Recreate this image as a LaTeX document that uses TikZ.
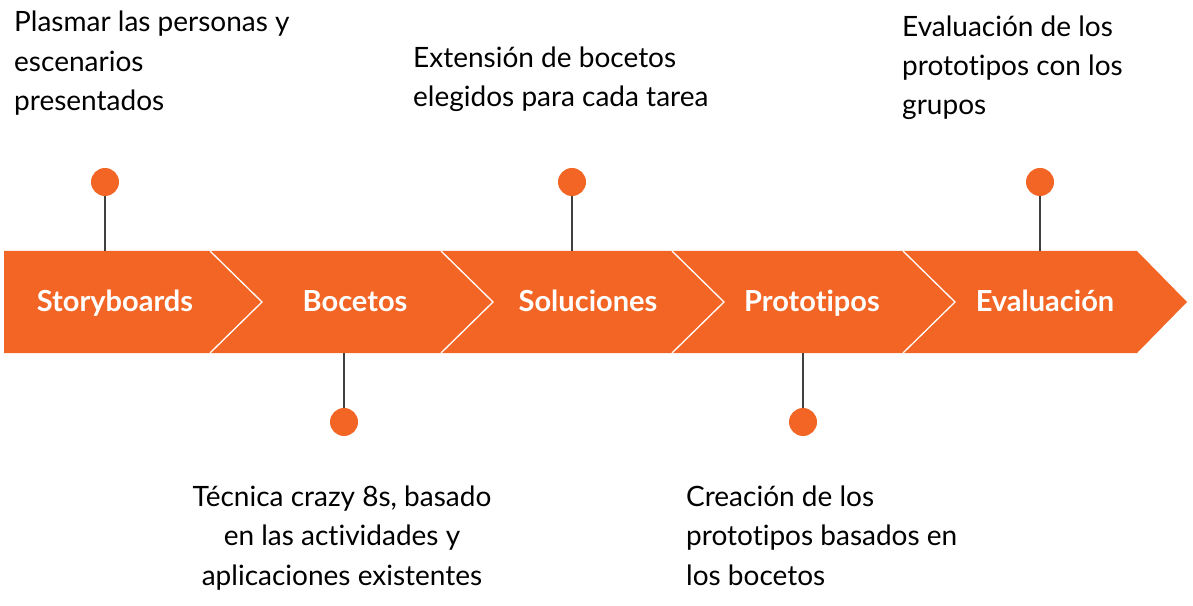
\documentclass[tikz,border=0pt]{standalone}
\usepackage{fontspec}
\setmainfont{Lato}[Ligatures=NoCommon]
\definecolor{band}{HTML}{F26524}
\definecolor{stem}{HTML}{404040}
\tikzset{
  lbl/.style={text=white, font=\fontsize{29bp}{34bp}\selectfont\bfseries, inner sep=0pt, anchor=base},
  note/.style={text=black, font=\fontsize{28bp}{39.4bp}\selectfont, inner sep=0pt},
  dot/.style={circle, fill=band, minimum size=28bp, inner sep=0pt},
  stemline/.style={draw=stem, line width=1.6bp},
  sep/.style={draw=white, line width=1.3bp},
}
\begin{document}
\begin{tikzpicture}[x=1bp,y=-1bp]
\useasboundingbox (0,0) rectangle (1193,606);
% band
\fill[band] (4,251) -- (1137,251) -- (1187,302) -- (1137,353) -- (4,353) -- cycle;
\foreach \s in {210,441,672,903} {
  \draw[sep] (\s,251) -- (\s+52,302) -- (\s,353);
}
% labels
\node[lbl] (l1) at (115,312) {Storyboards};
\node[lbl] (l2) at (355,312) {Bocetos};
\node[lbl] (l3) at (588,312) {Soluciones};
\node[lbl] (l4) at (812,312) {Prototipos};
\node[lbl] (l5) at (1045,312) {Evaluación};
% band anchor coordinates
\coordinate (t1) at (105,251);
\coordinate (b2) at (344,353);
\coordinate (t3) at (572,251);
\coordinate (b4) at (803,353);
\coordinate (t5) at (1040,251);
% dots
\node[dot] (d1) at (105,182) {};
\node[dot] (d2) at (344,422) {};
\node[dot] (d3) at (572,182) {};
\node[dot] (d4) at (803,422) {};
\node[dot] (d5) at (1040,182) {};
\draw[stemline] (d1) -- (t1);
\draw[stemline] (d2) -- (b2);
\draw[stemline] (d3) -- (t3);
\draw[stemline] (d4) -- (b4);
\draw[stemline] (d5) -- (t5);
% notes (base anchor = last line's baseline)
\node[note, anchor=base west, align=left] (n1) at (14,110.5) {Plasmar las personas y\\escenarios\\presentados};
\node[note, anchor=base west, align=left] (n3) at (413,106.5) {Extensión de bocetos\\elegidos para cada tarea};
\node[note, anchor=base west, align=left] (n5) at (902,115) {Evaluación de los\\prototipos con los\\grupos};
\node[note, anchor=base, align=center] (n2) at (342,585) {Técnica crazy 8s, basado\\en las actividades y\\aplicaciones existentes};
\node[note, anchor=base west, align=left] (n4) at (686,585) {Creación de los\\prototipos basados en\\los bocetos};
\end{tikzpicture}
\end{document}
